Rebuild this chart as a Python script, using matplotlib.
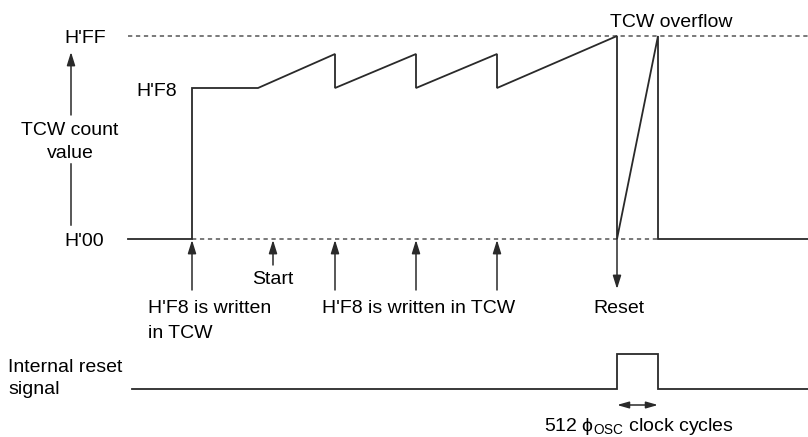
import matplotlib.pyplot as plt

plt.rcParams['font.family'] = ['Liberation Sans', 'DejaVu Sans']
plt.rcParams['mathtext.fontset'] = 'custom'
plt.rcParams['mathtext.rm'] = 'Liberation Sans'
plt.rcParams['mathtext.it'] = 'Liberation Sans:italic'

# schematic coordinates (pixel-like, y grows downward)
level_names = ["H'FF", "H'F8", "H'00"]
level_y = [36, 88, 239]

# TCW count value trace
count_x = [128, 192, 192, 258, 335, 335, 416, 416, 497, 497, 617, 617, 658, 658, 808]
count_y = [239, 239, 88, 88, 54, 88, 54, 88, 54, 88, 36, 239, 36, 239, 239]

# internal reset signal
reset_x = [132, 617, 617, 658, 658, 808]
reset_y = [389, 389, 354, 354, 389, 389]

write_x = [192, 335, 416, 497]   # H'F8 written
start_x = 273
reset_at = 617

ink = '#2a2a2a'
dash = '#555555'
fs = 14

fig = plt.figure(figsize=(8.08, 4.37), dpi=100)
ax = fig.add_axes([0, 0, 1, 1])
ax.set_xlim(0, 808)
ax.set_ylim(437, 0)
ax.axis('off')

def arrow(x0, y0, x1, y1, both=False, hl=0.8, hw=0.25):
    style = '<|-|>' if both else '-|>'
    ax.annotate('', xy=(x1, y1), xytext=(x0, y0),
                arrowprops=dict(arrowstyle=f'{style},head_length={hl},head_width={hw}',
                                lw=1.1, color=ink, shrinkA=0, shrinkB=0,
                                mutation_scale=10))

# dashed reference levels
ax.plot([128, 808], [level_y[0], level_y[0]], color=dash, lw=1.1, dashes=(2.8, 2.4))
ax.plot([192, 658], [level_y[2], level_y[2]], color=dash, lw=1.1, dashes=(2.8, 2.4))

ax.plot(count_x, count_y, color=ink, lw=1.3, solid_joinstyle='miter')
ax.plot(reset_x, reset_y, color=ink, lw=1.3, solid_joinstyle='miter')

# level labels
ax.text(106, 43, level_names[0], ha='right', va='baseline', fontsize=fs)
ax.text(177, 96, level_names[1], ha='right', va='baseline', fontsize=fs)
ax.text(104, 246, level_names[2], ha='right', va='baseline', fontsize=fs)

# y-axis caption with arrow
ax.text(70, 135, 'TCW count', ha='center', va='baseline', fontsize=fs)
ax.text(70, 158, 'value', ha='center', va='baseline', fontsize=fs)
arrow(71, 115, 71, 52)
ax.plot([71, 71], [164, 225], color=ink, lw=1.1)

ax.text(671, 27, 'TCW overflow', ha='center', va='baseline', fontsize=fs)

# write arrows
for x in write_x:
    arrow(x, 290, x, 240)
arrow(start_x, 265, start_x, 240)
ax.text(start_x, 284, 'Start', ha='center', va='baseline', fontsize=fs)

ax.text(148, 313, "H'F8 is written", ha='left', va='baseline', fontsize=fs)
ax.text(148, 338, 'in TCW', ha='left', va='baseline', fontsize=fs)
ax.text(322, 313, "H'F8 is written in TCW", ha='left', va='baseline', fontsize=fs)

arrow(reset_at, 239, reset_at, 289)
ax.text(619, 313, 'Reset', ha='center', va='baseline', fontsize=fs)

ax.text(8, 372, 'Internal reset', ha='left', va='baseline', fontsize=fs)
ax.text(8, 394, 'signal', ha='left', va='baseline', fontsize=fs)

arrow(617, 405, 658, 405, both=True, hl=0.7, hw=0.2)
ax.text(639, 431, r'512 $\mathregular{\phi_{OSC}}$ clock cycles', ha='center',
        va='baseline', fontsize=fs)

fig.savefig('out.png', dpi=100)
